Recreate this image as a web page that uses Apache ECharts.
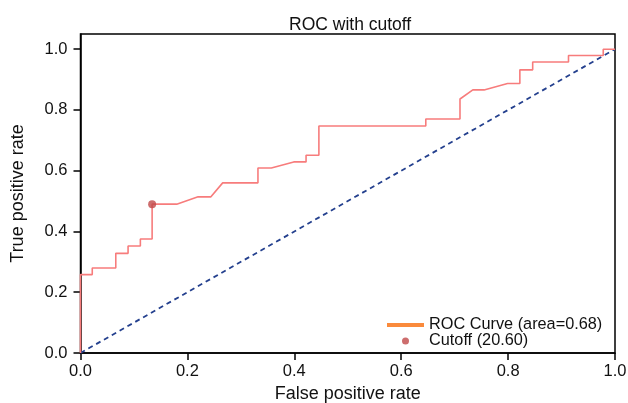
<!DOCTYPE html>
<html>
<head>
<meta charset="utf-8">
<script src="https://cdn.jsdelivr.net/npm/echarts@6/dist/echarts.min.js"></script>
<style>
html,body{margin:0;padding:0;background:#fff;}
#m1{width:628px;height:403px;}
</style>
</head>
<body>
<div id="m1"></div>
<script>
// roc curve points
var fpr=[0,0,0.022,0.022,0.066,0.066,0.089,0.089,0.112,0.112,0.134,0.134,0.18,0.22,0.244,0.266,0.332,0.332,0.357,0.399,0.422,0.422,0.446,0.446,0.646,0.646,0.71,0.71,0.734,0.755,0.799,0.822,0.822,0.846,0.846,0.913,0.913,0.978,0.978,1.0];
var tpr=[0,0.258,0.258,0.28,0.28,0.328,0.328,0.352,0.352,0.375,0.375,0.49,0.49,0.514,0.514,0.56,0.56,0.609,0.609,0.629,0.629,0.651,0.651,0.747,0.747,0.77,0.77,0.836,0.866,0.866,0.887,0.887,0.932,0.932,0.958,0.958,0.979,0.979,1.0,1.0];
var cutoffPoint=[0.134,0.49];
var chanceX=[0,1];
var chanceY=[0,1];
var rocName='ROC Curve (area=0.68)';
var cutoffName='Cutoff (20.60)';

var font='"Liberation Sans", Arial, sans-serif';
var rocData=[];
for(var i=0;i<fpr.length;i++){
    rocData.push([fpr[i],tpr[i]]);
}
var chanceData=[];
for(var j=0;j<chanceX.length;j++){
    chanceData.push([chanceX[j],chanceY[j]]);
}

var myChart=echarts.init(document.getElementById('m1'));
var option={
    animation:false,
    title:{
        text:'ROC with cutoff',
        left:284,
        top:11,
        textStyle:{fontFamily:font,fontSize:17.5,fontWeight:'normal',color:'#111'}
    },
    grid:{
        left:80.5,right:13,top:34,bottom:50,
        outerBoundsMode:'none',
        show:true,borderColor:'#000',borderWidth:1.5
    },
    legend:{
        orient:'vertical',
        left:387,
        top:317,
        padding:0,
        itemGap:0,
        itemWidth:37,
        itemHeight:7,
        textStyle:{fontFamily:font,fontSize:16.3,color:'#111'},
        data:[
            {name:rocName,icon:'path://M0,0h37v4h-37z',itemStyle:{color:'#fa8a3c'}},
            {name:cutoffName,icon:'circle',itemStyle:{color:'#c04848'}}
        ]
    },
    xAxis:{
        type:'value',min:0,max:1,interval:0.2,
        name:'False positive rate',nameLocation:'middle',nameGap:32,
        nameTextStyle:{fontFamily:font,fontSize:18,color:'#111'},
        splitLine:{show:false},
        axisLine:{lineStyle:{color:'#000',width:1.5}},
        axisTick:{length:7,lineStyle:{color:'#000',width:1.5}},
        axisLabel:{fontFamily:font,fontSize:16.5,color:'#111',margin:10,
            formatter:function(v){return v.toFixed(1);}}
    },
    yAxis:{
        type:'value',min:0,max:1.05,interval:0.2,
        name:'True positive rate',nameLocation:'middle',nameGap:53,
        nameTextStyle:{fontFamily:font,fontSize:18,color:'#111'},
        splitLine:{show:false},
        axisLine:{lineStyle:{color:'#000',width:1.5}},
        axisTick:{length:7,lineStyle:{color:'#000',width:1.5}},
        axisLabel:{fontFamily:font,fontSize:16.5,color:'#111',margin:13,showMaxLabel:false,
            formatter:function(v){return v.toFixed(1);}}
    },
    series:[
        {
            name:rocName,
            type:'line',
            data:rocData,
            symbol:'none',
            color:'#f77c7c',
            lineStyle:{color:'#f77c7c',width:1.6},
            z:3
        },
        {
            name:'chance',
            type:'line',
            data:chanceData,
            symbol:'none',
            lineStyle:{color:'#24408e',width:1.8,type:[5,4]},
            z:2
        },
        {
            name:cutoffName,
            type:'scatter',
            data:[cutoffPoint],
            symbolSize:8,
            itemStyle:{color:'#c04848'},
            z:4
        }
    ]
};
myChart.setOption(option);
</script>
</body>
</html>
